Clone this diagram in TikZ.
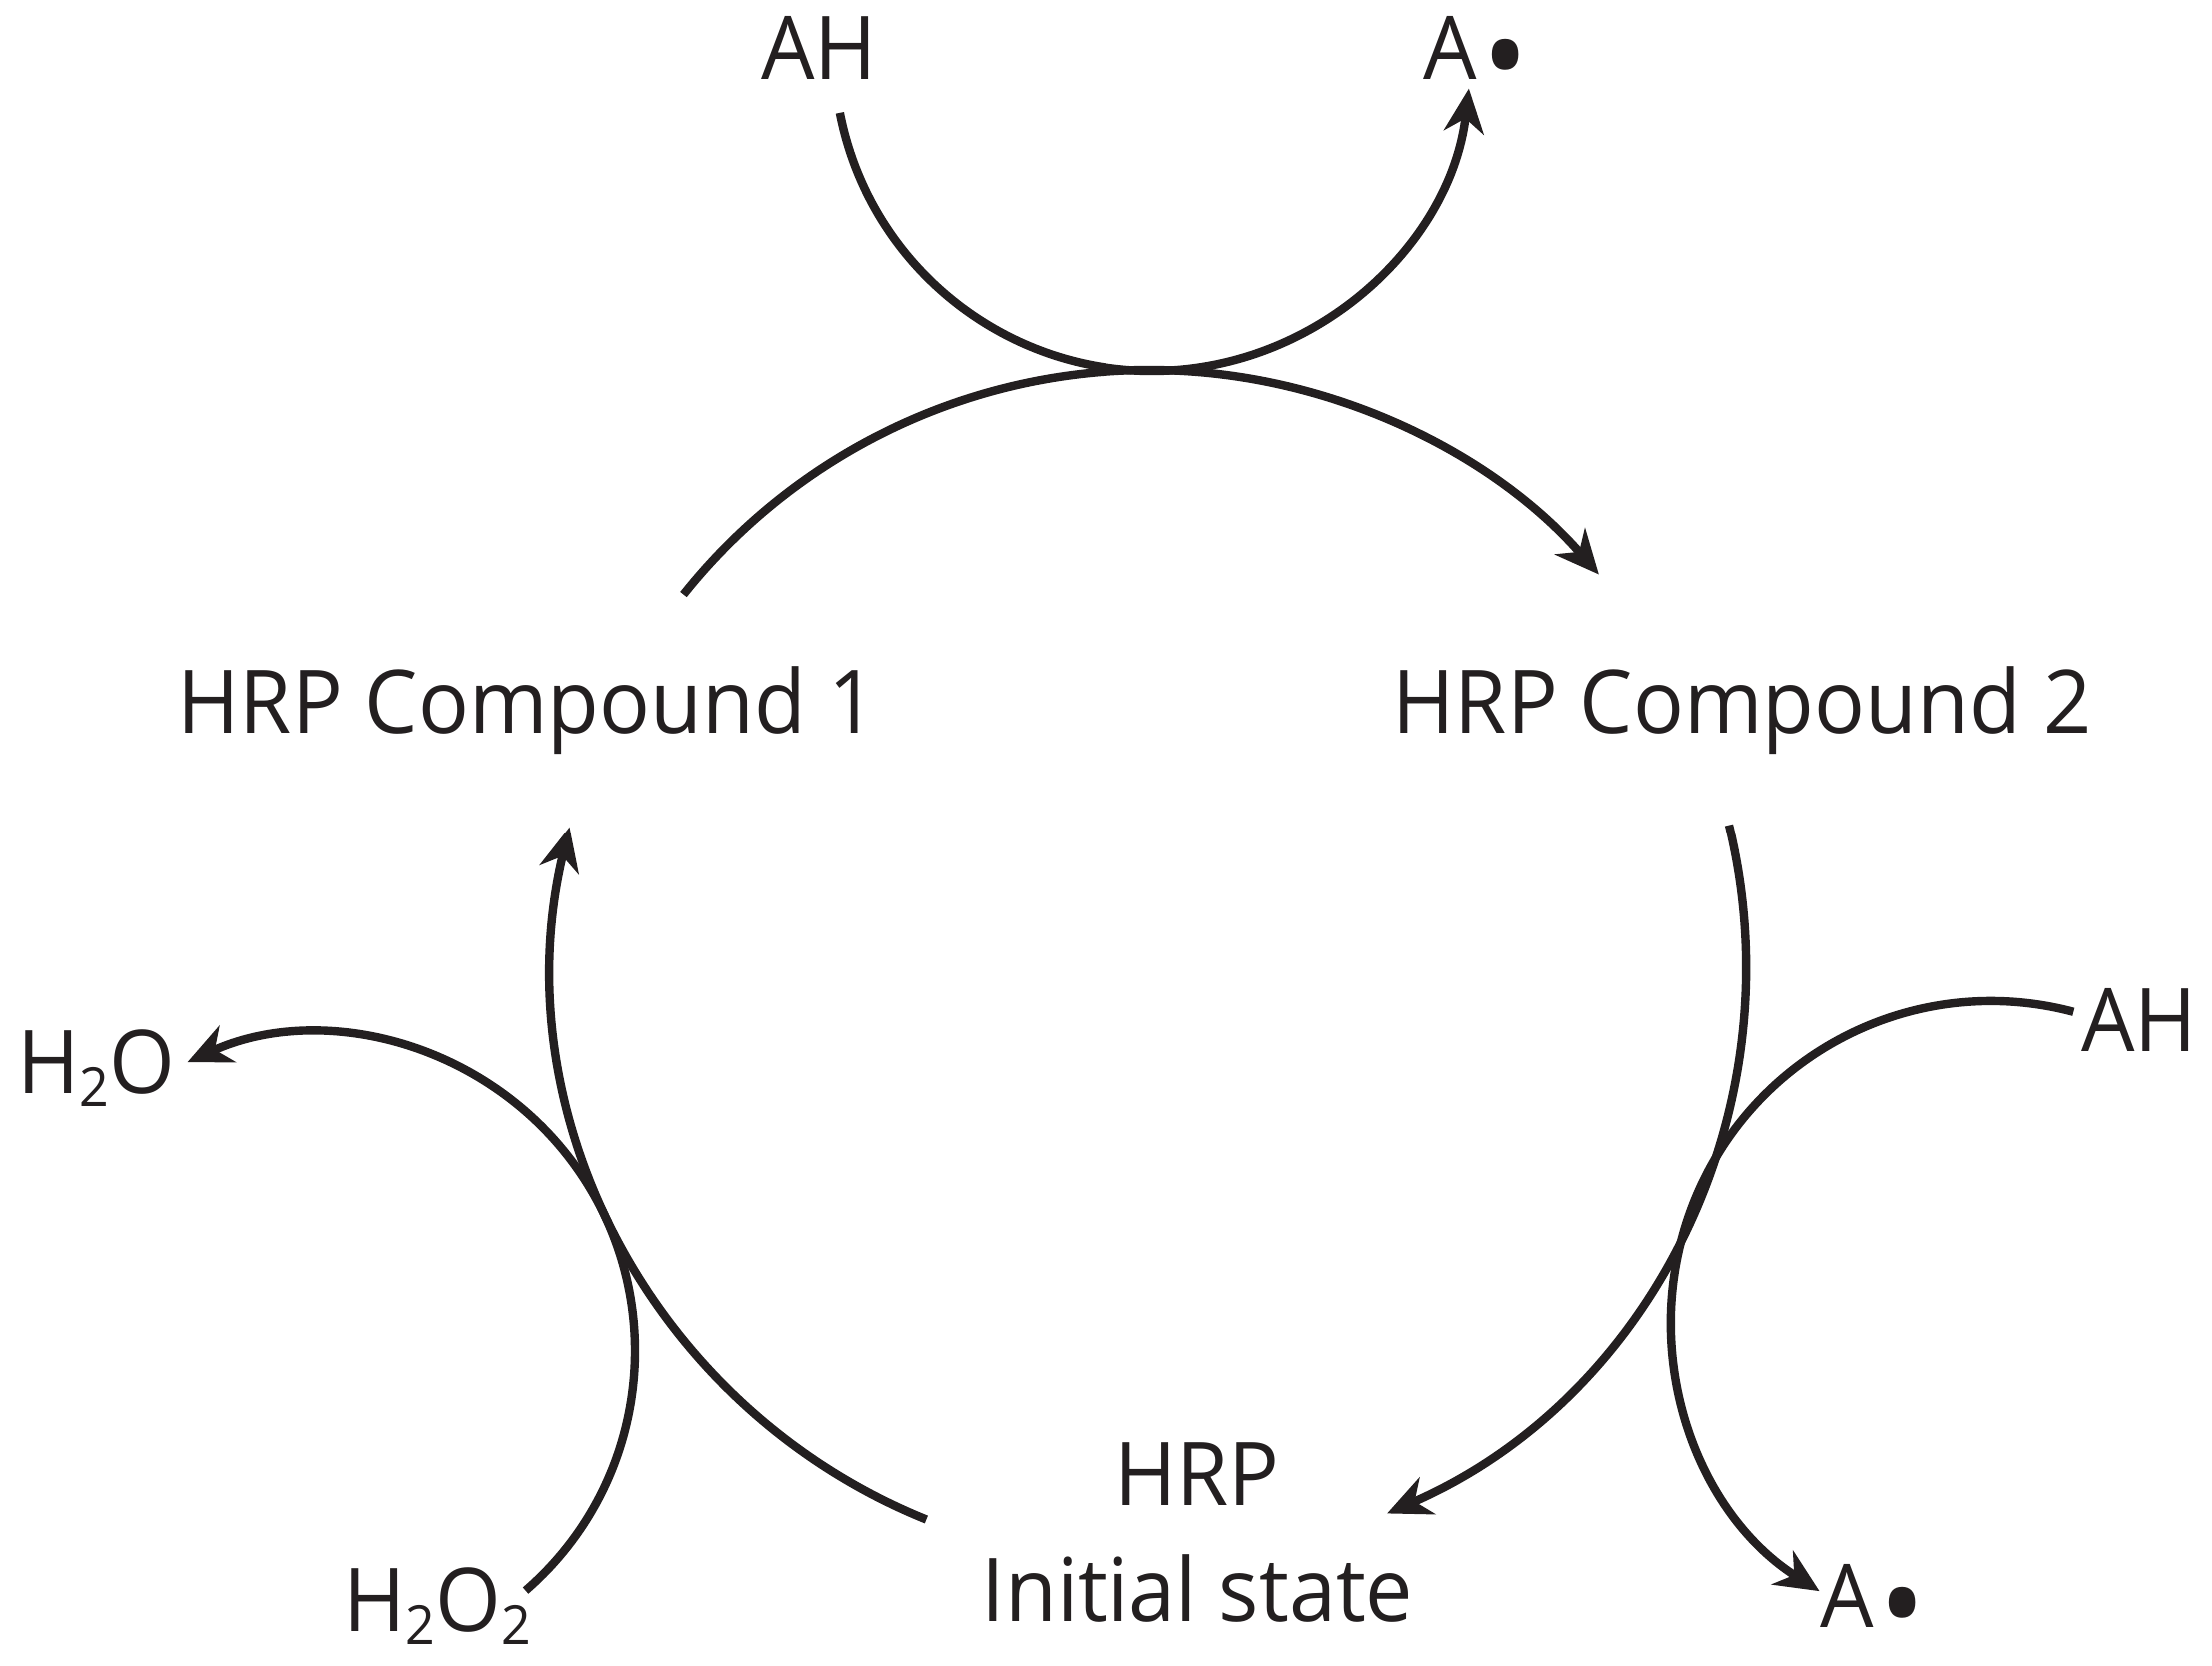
\documentclass[tikz,border=0pt]{standalone}
\usepackage{fontspec}
\setmainfont[FakeStretch=0.96]{Open Sans}
\usetikzlibrary{arrows.meta}
\newcommand\subtwo{\raisebox{-3.2pt}{\fontsize{13.5}{13.5}\selectfont 2}}
\newcommand\radot{\kern1.2pt\raisebox{-5.3pt}{\fontsize{32}{32}\selectfont •}}
\begin{document}
\begin{tikzpicture}[x=0.25pt,y=0.25pt,
  cyc/.style={line width=2.1pt,draw={rgb,255:red,35;green,31;blue,32},-{Stealth[length=11pt,width=10pt,inset=3.5pt]}},
  lbl/.style={anchor=base,inner sep=0pt,text={rgb,255:red,35;green,31;blue,32},font=\fontsize{22}{29}\selectfont}]
\useasboundingbox (0,0) rectangle (2213,1667);
% centres
\coordinate (C) at (1150,700);
\coordinate (T) at (1153,1615);
\coordinate (L) at (318,315);
\coordinate (R) at (1992,345);
% labels
\node[lbl] (c1) at (527,933) {HRP Compound 1};
\node[lbl] (c2) at (1743,933) {HRP Compound 2};
\node[lbl,align=center] (hrp) at (1198,44) {HRP\\Initial state};
\node[lbl] (ah1) at (819,1587) {AH};
\node[lbl,anchor=base west] (ar1) at (1424,1587) {A\radot};
\node[lbl] (ah2) at (2140,614) {AH};
\node[lbl,anchor=base west] (ar2) at (1821,38) {A\radot};
\node[lbl] (w) at (96,572) {H\subtwo O};
\node[lbl] (hp) at (437,34) {H\subtwo O\subtwo};
% big cycle arcs
\draw[cyc] ([shift={(141.4:597)}]C) arc[start angle=141.4,end angle=41.1,radius=597];
\draw[cyc] ([shift={(13.7:597)}]C) arc[start angle=13.7,end angle=-66.5,radius=597];
\draw[cyc] ([shift={(248:597)}]C) arc[start angle=248,end angle=166.5,radius=597];
% small arcs
\draw[cyc] ([shift={(191:319)}]T) arc[start angle=191,end angle=353.4,radius=319];
\draw[cyc] ([shift={(-49.1:317)}]L) arc[start angle=-49.1,end angle=114.3,radius=317];
\draw[cyc] ([shift={(75.1:320)}]R) arc[start angle=75.1,end angle=237.6,radius=320];
\end{tikzpicture}
\end{document}
